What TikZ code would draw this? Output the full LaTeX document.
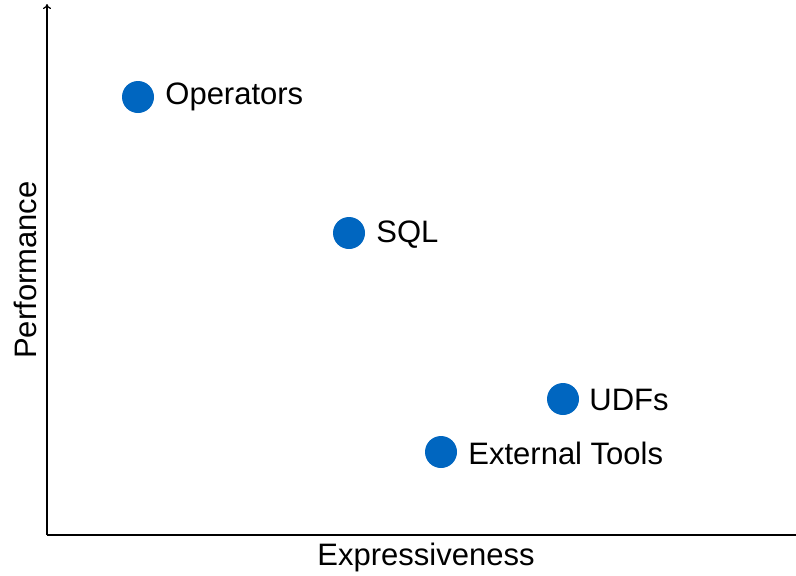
\documentclass[tikz,border=0pt]{standalone}
\usepackage{fontspec}
\setmainfont{Liberation Sans}
\usetikzlibrary{arrows.meta}
\definecolor{dotblue}{HTML}{0066C0}
\begin{document}
\begin{tikzpicture}[x=0.5pt,y=-0.5pt,
  dot/.style={circle,fill=dotblue,minimum size=16pt,inner sep=0pt},
  lbl/.style={font=\fontsize{15.5}{18}\selectfont,anchor=west,inner sep=0pt},
  axislbl/.style={font=\fontsize{15.5}{18}\selectfont,inner sep=0pt}]
\useasboundingbox (0,0) rectangle (796,575);
\coordinate (o) at (47,535);
\coordinate (ytop) at (47,4);
\coordinate (xend) at (796,535);
\draw[line width=0.6pt,-{To[length=2.5pt,width=4pt]}] (o) -- (ytop);
\draw[line width=0.6pt] (o) -- (xend);
\node[axislbl] (xl) at (426,557) {Expressiveness};
\node[axislbl,rotate=90] (yl) at (25,270) {Performance};
\node[dot] (op) at (138,97) {};
\node[lbl] (opl) at (165,97) {Operators};
\node[dot] (sql) at (349,233) {};
\node[lbl] (sqll) at (376,235) {SQL};
\node[dot] (udf) at (563,399) {};
\node[lbl] (udfl) at (589,400) {UDFs};
\node[dot] (ext) at (441,452) {};
\node[lbl] (extl) at (468,453) {External Tools};
\end{tikzpicture}
\end{document}
